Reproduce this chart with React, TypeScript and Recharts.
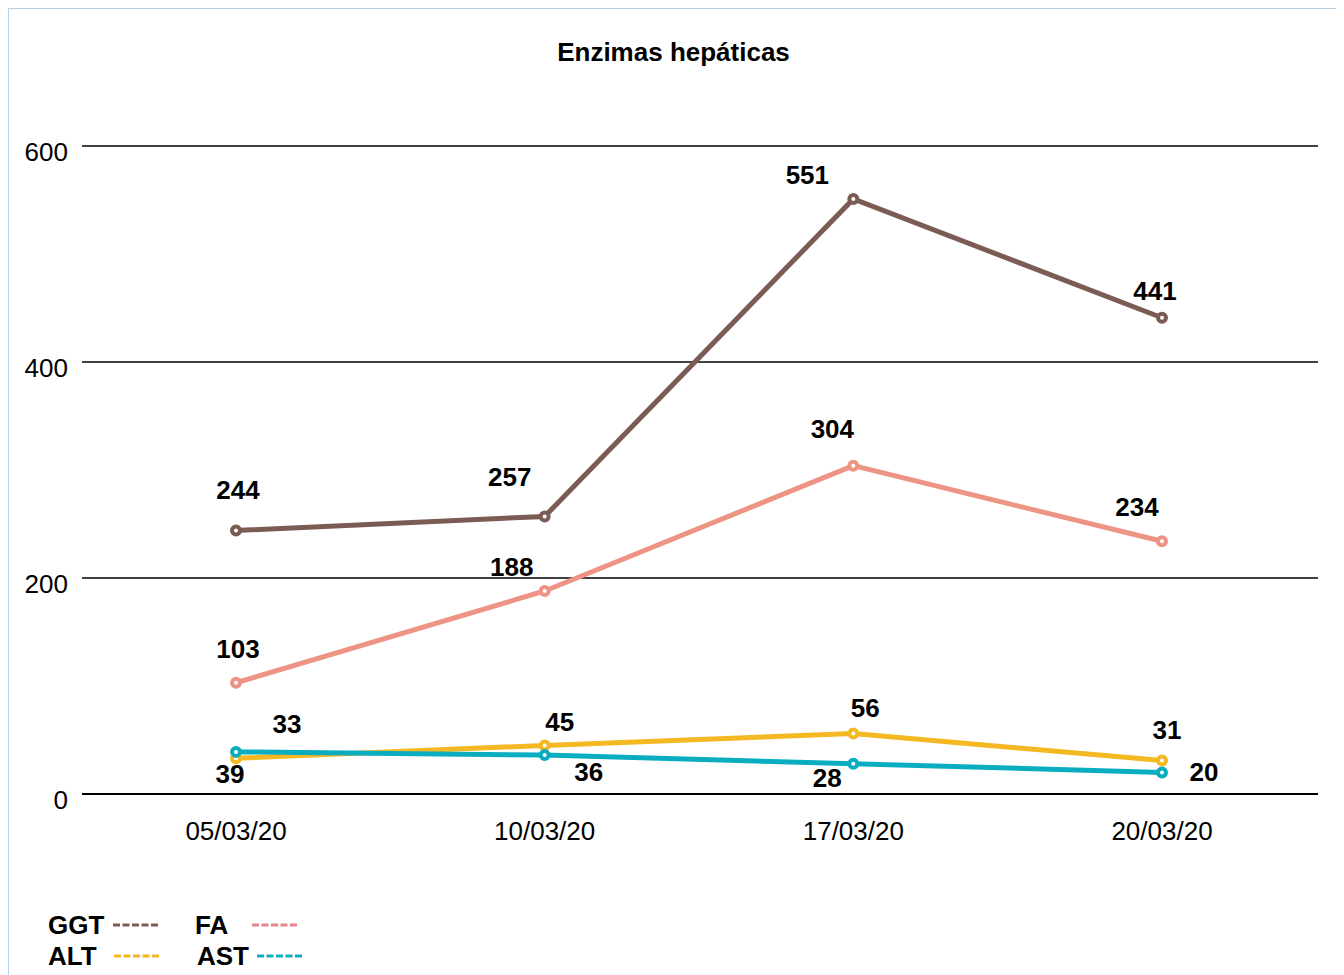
import React from 'react';
import { LineChart, Line, XAxis, YAxis, CartesianGrid, LabelList } from 'recharts';

// dates on the category axis
const dates = ['05/03/20', '10/03/20', '17/03/20', '20/03/20'];
const yTicks = [0, 200, 400, 600];

const ggt = [244, 257, 551, 441];
const fa = [103, 188, 304, 234];
const alt = [33, 45, 56, 31];
const ast = [39, 36, 28, 20];

const data = dates.map((d, i) => ({ date: d, GGT: ggt[i], FA: fa[i], ALT: alt[i], AST: ast[i] }));

const FONT = '"Liberation Sans", Arial, sans-serif';

// label nudges per point [dx, dy] relative to the marker
const LABEL_OFFSETS: Record<string, [number, number][]> = {
  GGT: [[2, -40], [-35, -39], [-46, -24], [-7, -27]],
  FA: [[2, -34], [-33, -24], [-21, -37], [-25, -34]],
  ALT: [[51, -34], [15, -23], [12, -26], [5, -31]],
  AST: [[-6, 22], [44, 17], [-26, 14], [42, 0]],
};

const SERIES = [
  { key: 'GGT', color: '#7b5c55', legend: '#7b5c55' },
  { key: 'FA', color: '#ee9484', legend: '#e8838b' },
  { key: 'ALT', color: '#f4b822', legend: '#f4b822' },
  { key: 'AST', color: '#0aadc0', legend: '#0aadc0' },
];

const makeLabel = (key: string) => (props: any) => {
  const { x, y, value, index } = props;
  const [dx, dy] = LABEL_OFFSETS[key][index];
  return (
    <text
      x={x + dx}
      y={y + dy}
      textAnchor="middle"
      dominantBaseline="central"
      fontFamily={FONT}
      fontWeight="bold"
      fontSize={26}
      fill="#000"
    >
      {value}
    </text>
  );
};

const LegendItem = ({ name, color, left, top, dashLeft }: any) => (
  <div style={{ position: 'absolute', left, top, display: 'flex', alignItems: 'center', lineHeight: '30px' }}>
    <span style={{ fontFamily: FONT, fontWeight: 'bold', fontSize: 26, color: '#000', width: dashLeft, display: 'inline-block' }}>{name}</span>
    <svg width={46} height={6}>
      <line x1={0} y1={3} x2={45} y2={3} stroke={color} strokeWidth={3} strokeDasharray="7 2.5" />
    </svg>
  </div>
);

export default function App() {
  return (
    <div
      style={{
        position: 'relative',
        left: -1,
        top: -1,
        width: 1333,
        height: 968,
        border: '2px solid #b3d1eb',
        borderBottom: 'none',
        background: '#fff',
        boxSizing: 'border-box',
      }}
    >
      <div
        style={{
          position: 'absolute',
          top: 28,
          left: 0,
          width: 1329,
          textAlign: 'center',
          fontFamily: FONT,
          fontWeight: 'bold',
          fontSize: 26,
        }}
      >
        Enzimas hepáticas
      </div>
      <LineChart
        width={1329}
        height={966}
        data={data}
        margin={{ top: 137, right: 20, bottom: 151, left: 0 }}
      >
        <CartesianGrid vertical={false} stroke="#000" strokeWidth={1.5} />
        <XAxis
          dataKey="date"
          height={30}
          padding={{ left: 154, right: 156 }}
          axisLine={{ stroke: '#000', strokeWidth: 2 }}
          tickLine={false}
          tickSize={0}
          tickMargin={28}
          tick={{ fill: '#000', fontSize: 26, fontFamily: FONT }}
        />
        <YAxis
          domain={[0, 600]}
          ticks={yTicks}
          width={73}
          axisLine={false}
          tickLine={false}
          tickSize={0}
          tickMargin={14}
          tick={{ fill: '#000', fontSize: 26, fontFamily: FONT, dy: 6 }}
        />
        {SERIES.map((s) => (
          <Line
            key={s.key}
            dataKey={s.key}
            stroke={s.color}
            strokeWidth={5}
            dot={{ r: 4, fill: '#fff', stroke: s.color, strokeWidth: 4 }}
            isAnimationActive={false}
          >
            <LabelList dataKey={s.key} content={makeLabel(s.key)} />
          </Line>
        ))}
      </LineChart>
      <LegendItem name="GGT" color={SERIES[0].legend} left={39} top={901} dashLeft={65} />
      <LegendItem name="FA" color={SERIES[1].legend} left={186} top={901} dashLeft={57} />
      <LegendItem name="ALT" color={SERIES[2].legend} left={39} top={932} dashLeft={66} />
      <LegendItem name="AST" color={SERIES[3].legend} left={188} top={932} dashLeft={60} />
    </div>
  );
}
